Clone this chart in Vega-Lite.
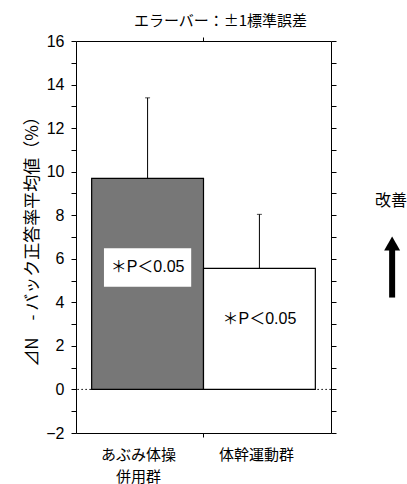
{
  "$schema": "https://vega.github.io/schema/vega-lite/v6.json",
  "padding": {"left": 23, "top": 14, "right": 0, "bottom": 0},
  "spacing": 0,
  "config": {
    "font": "Liberation Sans, Noto Sans CJK JP",
    "view": {"stroke": null},
    "axis": {"domainColor": "black", "tickColor": "black", "labelColor": "black", "titleColor": "black", "grid": false, "domainWidth": 1, "tickWidth": 1}
  },
  "datasets": {
    "bars": [
      {"group": "あぶみ体操併用群", "mean": 9.69, "upper": 13.39},
      {"group": "体幹運動群", "mean": 5.56, "upper": 8.04}
    ],
    "note": [{"label": "改善"}]
  },
  "hconcat": [
    {
      "width": 255,
      "height": 392,
      "data": {"name": "bars"},
      "title": {"text": "エラーバー：±1標準誤差", "fontSize": 15, "fontWeight": "normal", "font": "Noto Sans CJK JP", "dx": 17, "offset": 4, "color": "black"},
      "resolve": {"axis": {"x": "independent", "y": "independent"}},
      "layer": [
        {
          "mark": {"type": "rule", "strokeDash": [1.5, 2.5], "color": "#333333", "strokeWidth": 1},
          "encoding": {
            "y": {"datum": 0, "type": "quantitative", "scale": {"domain": [-2, 16], "nice": false, "zero": false},
              "axis": {"orient": "left", "values": [-2,-1,0,1,2,3,4,5,6,7,8,9,10,11,12,13,14,15,16], "labelExpr": "datum.value % 2 === 0 ? datum.label : ''", "title": "⊿N　- バック正答率平均値（%）", "titleFont": "Noto Sans CJK JP", "titleFontSize": 17, "titleFontWeight": "normal", "titlePadding": 4, "labelFontSize": 16, "labelPadding": 7, "tickSize": 5}}
          }
        },
        {
          "mark": {"type": "bar", "stroke": "black", "strokeWidth": 1.2},
          "encoding": {
            "x": {"field": "group", "type": "nominal", "sort": null, "scale": {"paddingInner": 0, "paddingOuter": 0.14},
              "axis": {"orient": "bottom", "ticks": false, "title": null, "labelAngle": 0, "labelFont": "Noto Sans CJK JP", "labelFontSize": 15, "labelPadding": 14, "labelLineHeight": 22,
                "labelOffset": {"condition": {"test": "datum.label == 'あぶみ体操併用群'", "value": -9}, "value": -3},
                "labelExpr": "datum.label == 'あぶみ体操併用群' ? ['あぶみ体操', '併用群'] : datum.label"}},
            "y": {"field": "mean", "type": "quantitative",
              "axis": {"orient": "right", "values": [-2,-1,0,1,2,3,4,5,6,7,8,9,10,11,12,13,14,15,16], "labels": false, "title": null, "tickSize": 5}},
            "color": {"field": "group", "type": "nominal", "sort": null, "scale": {"range": ["#777777", "#ffffff"]}, "legend": null}
          }
        },
        {
          "mark": {"type": "rule", "color": "black", "strokeWidth": 1},
          "encoding": {
            "x": {"field": "group", "type": "nominal", "sort": null,
              "axis": {"orient": "top", "values": ["体幹運動群"], "tickOffset": -56, "labels": false, "title": null, "tickSize": 4}},
            "y": {"field": "mean", "type": "quantitative", "axis": null},
            "y2": {"field": "upper"}
          }
        },
        {
          "mark": {"type": "tick", "color": "black", "size": 5, "thickness": 1},
          "encoding": {
            "x": {"field": "group", "type": "nominal", "sort": null,
              "axis": {"orient": "bottom", "values": ["体幹運動群"], "tickOffset": -56, "labels": false, "domain": false, "title": null, "tickSize": 4}},
            "y": {"field": "upper", "type": "quantitative", "axis": null}
          }
        },
        {
          "transform": [{"filter": "datum.group == 'あぶみ体操併用群'"}],
          "mark": {"type": "bar", "color": "white", "width": {"band": 0.78}},
          "encoding": {
            "x": {"field": "group", "type": "nominal", "sort": null, "axis": null},
            "y": {"datum": 4.72, "type": "quantitative", "axis": null},
            "y2": {"datum": 6.48}
          }
        },
        {
          "transform": [{"filter": "datum.group == 'あぶみ体操併用群'"}],
          "mark": {"type": "text", "fontSize": 16, "color": "black"},
          "encoding": {
            "x": {"field": "group", "type": "nominal", "sort": null, "axis": null},
            "y": {"datum": 5.62, "type": "quantitative", "axis": null},
            "text": {"value": "＊P＜0.05"}
          }
        },
        {
          "transform": [{"filter": "datum.group == '体幹運動群'"}],
          "mark": {"type": "text", "fontSize": 16, "color": "black"},
          "encoding": {
            "x": {"field": "group", "type": "nominal", "sort": null, "axis": null},
            "y": {"datum": 3.23, "type": "quantitative", "axis": null},
            "text": {"value": "＊P＜0.05"}
          }
        }
      ]
    },
    {
      "width": 74,
      "height": 392,
      "data": {"name": "note"},
      "layer": [
        {
          "mark": {"type": "text", "fontSize": 16, "font": "Noto Sans CJK JP", "color": "black"},
          "encoding": {
            "x": {"datum": 0.73, "type": "quantitative", "scale": {"domain": [0, 1]}, "axis": null},
            "y": {"datum": 8.64, "type": "quantitative", "scale": {"domain": [-2, 16], "nice": false, "zero": false}, "axis": null},
            "text": {"field": "label"}
          }
        },
        {
          "mark": {"type": "rule", "strokeWidth": 6, "color": "black"},
          "encoding": {
            "x": {"datum": 0.745, "type": "quantitative"},
            "y": {"datum": 4.22, "type": "quantitative"},
            "y2": {"datum": 6.45}
          }
        },
        {
          "mark": {"type": "point", "shape": "triangle-up", "filled": true, "size": 256, "color": "black", "opacity": 1, "strokeWidth": 0},
          "encoding": {
            "x": {"datum": 0.745, "type": "quantitative"},
            "y": {"datum": 6.7, "type": "quantitative"}
          }
        }
      ]
    }
  ]
}
